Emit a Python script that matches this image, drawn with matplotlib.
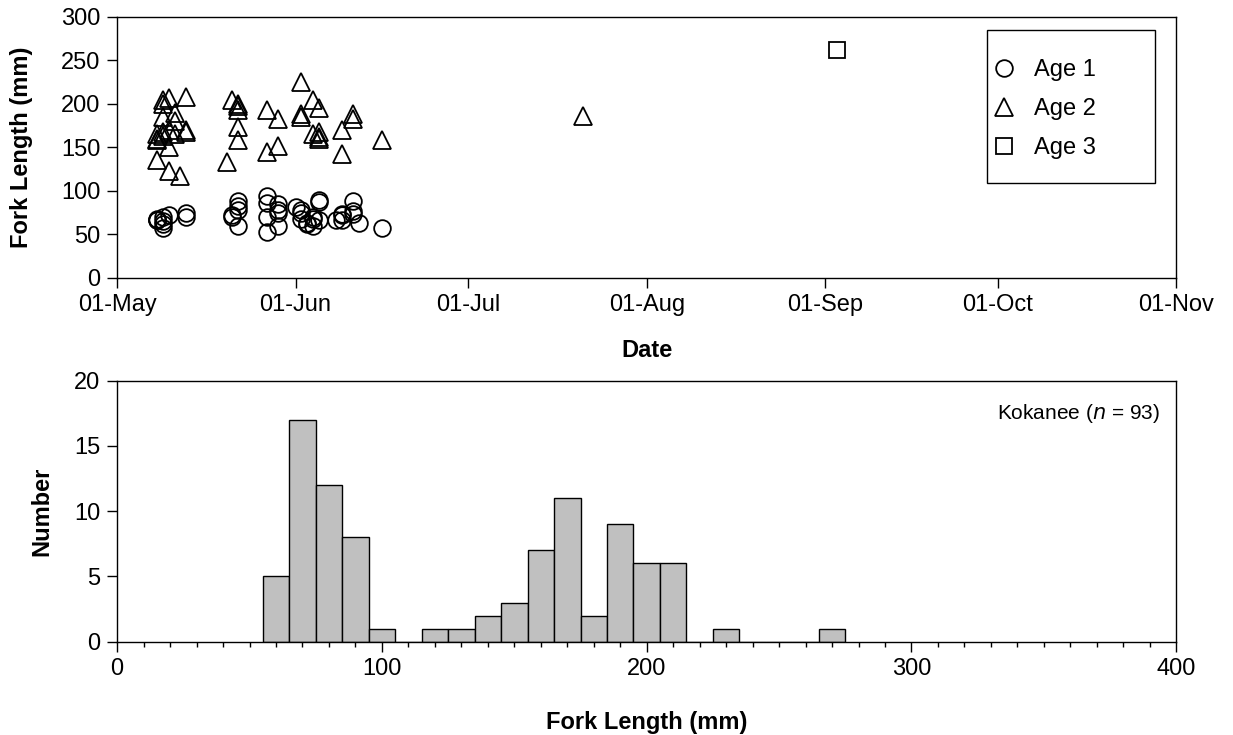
import numpy as np
import pandas as pd
import matplotlib
matplotlib.use('Agg')
import matplotlib.pyplot as plt
import matplotlib.dates as mdates
from matplotlib.ticker import MultipleLocator
from matplotlib.patches import Rectangle

plt.rcParams['font.family'] = ['Liberation Sans', 'DejaVu Sans']

# age 1 (circles)
age1_dates = ['05-08', '05-08', '05-08', '05-09', '05-09', '05-09', '05-09', '05-10',
              '05-13', '05-13',
              '05-21', '05-21', '05-22', '05-22', '05-22', '05-22',
              '05-27', '05-27', '05-27', '05-27', '05-29', '05-29', '05-29', '05-29',
              '06-01', '06-02', '06-02', '06-02', '06-03', '06-03',
              '06-04', '06-04', '06-04', '06-05', '06-05', '06-05',
              '06-08', '06-09', '06-09', '06-09', '06-11', '06-11', '06-11', '06-12',
              '06-16']
age1_fl = [66, 67, 68, 62, 57, 70, 65, 72,
           75, 70,
           70, 72, 88, 83, 78, 60,
           94, 86, 70, 53, 85, 78, 60, 75,
           82, 78, 68, 75, 63, 62,
           70, 68, 60, 87, 90, 66,
           67, 73, 72, 66, 88, 77, 73, 63,
           57]

# age 2 (triangles)
age2_dates = ['05-08', '05-08', '05-08', '05-08', '05-09', '05-09', '05-09', '05-09',
              '05-09', '05-10', '05-10', '05-10', '05-10', '05-11', '05-11', '05-11',
              '05-12', '05-13', '05-13', '05-13',
              '05-20', '05-21', '05-22', '05-22', '05-22', '05-22', '05-22',
              '05-27', '05-27', '05-29', '05-29',
              '06-02', '06-02', '06-02',
              '06-04', '06-04', '06-05', '06-05', '06-05', '06-05',
              '06-09', '06-09', '06-11', '06-11',
              '06-16', '07-21']
age2_fl = [165, 160, 136, 158, 163, 168, 185, 200,
           205, 207, 123, 170, 150, 190, 165, 180,
           117, 208, 170, 168,
           133, 205, 200, 197, 193, 173, 158,
           193, 145, 152, 183,
           225, 188, 185,
           205, 165, 168, 195, 160, 162,
           142, 170, 188, 183,
           159, 186]

# age 3 (square)
age3_dates = ['09-03']
age3_fl = [262]

# length frequency (10 mm bins)
bin_centers = [60, 70, 80, 90, 100, 110, 120, 130, 140, 150, 160, 170, 180, 190,
               200, 210, 220, 230, 240, 250, 260, 270]
counts = [5, 17, 12, 8, 1, 0, 1, 1, 2, 3, 7, 11, 2, 9,
          6, 6, 0, 1, 0, 0, 0, 1]

FS = 17


def to_dt(ds):
    return pd.to_datetime(['2005-' + d for d in ds])


fig = plt.figure(figsize=(12.33, 7.35), dpi=100)

# top: fork length by date
ax1 = fig.add_axes([0.095, 0.622, 0.859, 0.355])
mk = dict(linestyle='none', markerfacecolor='none', markeredgecolor='black', markeredgewidth=1.3)
ax1.plot(to_dt(age1_dates), age1_fl, marker='o', markersize=12, label='Age 1', **mk)
ax1.plot(to_dt(age2_dates), age2_fl, marker='^', markersize=13, label='Age 2', **mk)
ax1.plot(to_dt(age3_dates), age3_fl, marker='s', markersize=11, label='Age 3', **mk)

ax1.set_xlim(pd.Timestamp('2005-05-01'), pd.Timestamp('2005-11-01'))
ax1.set_ylim(0, 300)
ax1.xaxis.set_major_locator(mdates.MonthLocator())
ax1.xaxis.set_major_formatter(mdates.DateFormatter('%d-%b'))
ax1.yaxis.set_major_locator(MultipleLocator(50))
ax1.tick_params(direction='out', labelsize=FS, length=7, width=1, pad=5)
ax1.set_xlabel('Date', fontsize=FS, fontweight='bold', labelpad=16)
ax1.set_ylabel('Fork Length (mm)', fontsize=FS, fontweight='bold', labelpad=20)

# legend box drawn separately so the padding can differ by direction
ax1.add_patch(Rectangle((0.8215, 0.364), 0.1585, 0.586, transform=ax1.transAxes,
                        fill=False, edgecolor='black', linewidth=1, zorder=4))
leg = ax1.legend(loc='center', bbox_to_anchor=(0.875, 0.6475), fontsize=FS,
                 frameon=False, borderpad=0, labelspacing=0.72,
                 handlelength=1.0, handletextpad=0.75, borderaxespad=0)

# bottom: length histogram
ax2 = fig.add_axes([0.095, 0.127, 0.859, 0.355])
ax2.bar(bin_centers, counts, width=10, color='#c0c0c0', edgecolor='black', linewidth=1)
ax2.set_xlim(0, 400)
ax2.set_ylim(0, 20)
ax2.xaxis.set_major_locator(MultipleLocator(100))
ax2.xaxis.set_minor_locator(MultipleLocator(10))
ax2.yaxis.set_major_locator(MultipleLocator(5))
ax2.tick_params(which='major', direction='out', labelsize=FS, length=7, width=1, pad=5)
ax2.tick_params(which='minor', direction='out', length=3.5, width=1)
ax2.set_xlabel('Fork Length (mm)', fontsize=FS, fontweight='bold', labelpad=22)
ax2.set_ylabel('Number', fontsize=FS, fontweight='bold', labelpad=15)
ax2.text(0.985, 0.875, 'Kokanee ($\\mathit{n}$ = 93)', transform=ax2.transAxes,
         ha='right', va='center', fontsize=15)

for ax in (ax1, ax2):
    for s in ax.spines.values():
        s.set_linewidth(1)

fig.savefig('out.png', dpi=100)
